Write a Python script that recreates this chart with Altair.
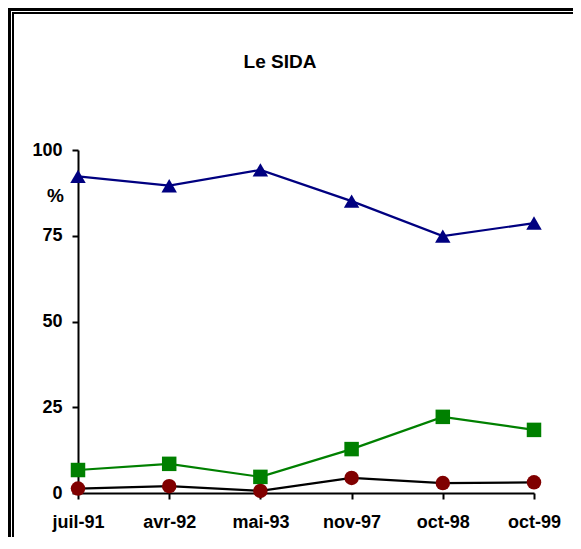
import altair as alt
import pandas as pd

periodes = ["juil-91", "avr-92", "mai-93", "nov-97", "oct-98", "oct-99"]
serie_bleue = [92.3, 89.6, 94.2, 85.1, 74.9, 78.7]
serie_verte = [6.7, 8.5, 4.7, 12.8, 22.2, 18.4]
serie_rouge = [1.3, 2.0, 0.6, 4.4, 2.9, 3.1]
y_ticks = [0, 25, 50, 75, 100]

FONT = "Liberation Sans"

def frame(vals):
    return pd.DataFrame({"periode": periodes, "valeur": vals})

x_enc = alt.X(
    "periode:N",
    sort=periodes,
    scale=alt.Scale(type="point", padding=0),
    axis=alt.Axis(
        title=None, labelAngle=0, labelFont=FONT, labelFontSize=18,
        labelFontWeight="bold", labelColor="black", labelPadding=14,
        tickSize=6, tickWidth=2, tickColor="black",
        domainWidth=2, domainColor="black", grid=False,
    ),
)
y_enc = alt.Y(
    "valeur:Q",
    scale=alt.Scale(domain=[0, 100], nice=False, zero=True),
    axis=alt.Axis(
        title=None, values=y_ticks, labelFont=FONT, labelFontSize=18,
        labelFontWeight="bold", labelColor="black", labelPadding=10,
        tickSize=6, tickWidth=2, tickColor="black",
        domainWidth=2, domainColor="black", grid=False,
    ),
)

def series(vals, line_color, fill, shape, size):
    base = alt.Chart(frame(vals)).encode(x=x_enc, y=y_enc)
    line = base.mark_line(color=line_color, strokeWidth=2.2)
    pts = base.mark_point(shape=shape, filled=True, color=fill, size=size, opacity=1)
    return line + pts

bleu = series(serie_bleue, "#000080", "#000080", "triangle-up", 240)
vert = series(serie_verte, "#008000", "#008000", "square", 210)
rouge = series(serie_rouge, "#000000", "#800000", "circle", 210)

deco = pd.DataFrame({"t": ["Le SIDA"]})

top_outer = alt.Chart(deco).mark_rule(color="black", strokeWidth=3).encode(
    x=alt.value(-70), x2=alt.value(495), y=alt.value(-140.5))
top_inner = alt.Chart(deco).mark_rule(color="black", strokeWidth=2).encode(
    x=alt.value(-66), x2=alt.value(495), y=alt.value(-137))
left_outer = alt.Chart(deco).mark_rule(color="black", strokeWidth=3).encode(
    x=alt.value(-68.5), y=alt.value(-142), y2=alt.value(387))
left_inner = alt.Chart(deco).mark_rule(color="black", strokeWidth=2).encode(
    x=alt.value(-65), y=alt.value(-138), y2=alt.value(387))

titre = alt.Chart(deco).mark_text(
    font=FONT, fontSize=19, fontWeight="bold", color="black",
    align="center", baseline="alphabetic").encode(
    text="t:N", x=alt.value(202), y=alt.value(-82))
pct = alt.Chart(pd.DataFrame({"t": ["%"]})).mark_text(
    font=FONT, fontSize=19, fontWeight="bold", color="black",
    align="right", baseline="alphabetic").encode(
    text="t:N", x=alt.value(-14), y=alt.value(52))

chart = alt.layer(top_outer, top_inner, left_outer, left_inner, titre, pct,
                  bleu, vert, rouge).properties(
    width=456, height=343,
    autosize=alt.AutoSizeParams(type="none"),
    padding={"left": 70, "top": 142, "right": 39, "bottom": 44},
    background="white",
).configure_view(stroke=None)

chart.save("out.html", embed_options={"renderer": "svg", "actions": False})
